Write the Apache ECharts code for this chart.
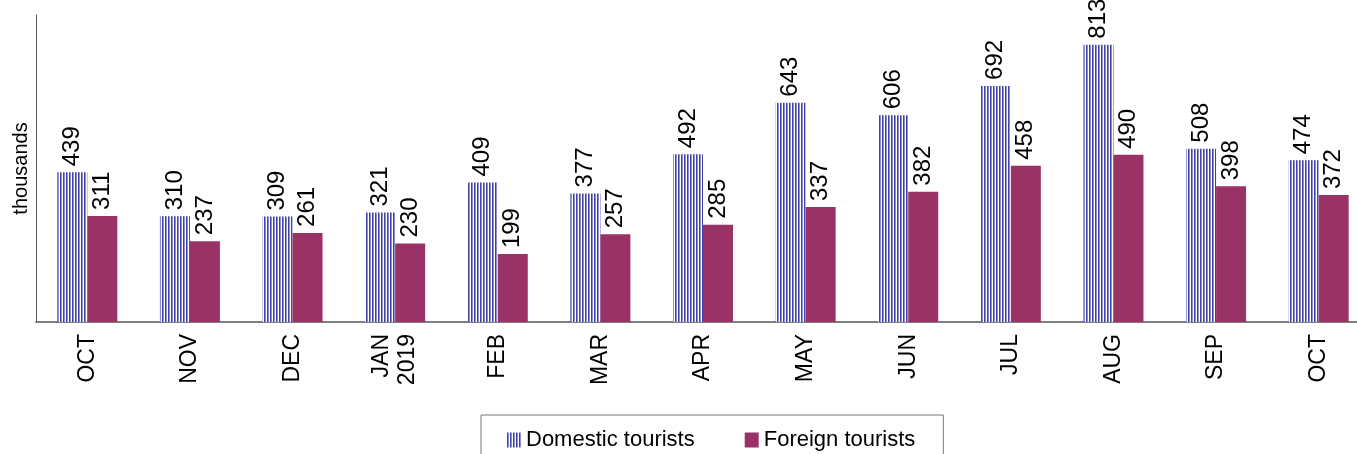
<!DOCTYPE html>
<html>
<head>
<meta charset="utf-8">
<script src="https://cdn.jsdelivr.net/npm/echarts@6/dist/echarts.min.js"></script>
<style>
  html, body { margin: 0; padding: 0; background: #fff; overflow: hidden; }
  #chart { width: 1370px; height: 454px; }
</style>
</head>
<body>
<div id="chart"></div>
<script>
const months = ['OCT', 'NOV', 'DEC', 'JAN\n2019', 'FEB', 'MAR', 'APR', 'MAY', 'JUN', 'JUL', 'AUG', 'SEP', 'OCT'];
const domestic = [439, 310, 309, 321, 409, 377, 492, 643, 606, 692, 813, 508, 474];
const foreign = [311, 237, 261, 230, 199, 257, 285, 337, 382, 458, 490, 398, 372];

// vertical stripe fill for the domestic bars
const stripe = document.createElement('canvas');
stripe.width = 3;
stripe.height = 4;
const ctx = stripe.getContext('2d');
ctx.fillStyle = '#ffffff'; ctx.fillRect(0, 0, 3, 4);
ctx.fillStyle = '#4242a4'; ctx.fillRect(0, 0, 1, 4);
ctx.fillStyle = '#8e8ed2'; ctx.fillRect(1, 0, 1, 4);

const font = 'Liberation Sans, Arial, sans-serif';
const barLabel = {
  show: true, position: 'top', rotate: 90, align: 'left', verticalAlign: 'middle',
  distance: 6, fontSize: 24, color: '#000', fontFamily: font
};

const chart = echarts.init(document.getElementById('chart'));
chart.setOption({
  animation: false,
  grid: { left: 36, right: 0, top: 15, bottom: 132 },
  legend: {
    left: 481, top: 415,
    padding: [14, 28, 30, 26],
    borderColor: '#777', borderWidth: 1,
    itemWidth: 14, itemHeight: 15, itemGap: 50,
    icon: 'rect',
    textStyle: { fontSize: 22, color: '#000', fontFamily: font },
    data: ['Domestic tourists', 'Foreign tourists']
  },
  xAxis: {
    type: 'category',
    data: months,
    axisLine: { lineStyle: { color: '#555', width: 1.5 } },
    axisTick: { show: false },
    axisLabel: { rotate: 90, fontSize: 23, color: '#000', fontFamily: font, margin: 12, lineHeight: 26 }
  },
  yAxis: {
    type: 'value',
    min: 0, max: 900,
    name: 'thousands', nameLocation: 'middle', nameGap: 5, nameRotate: 90,
    nameTextStyle: { fontSize: 20, color: '#000', fontFamily: font },
    axisLine: { show: true, lineStyle: { color: '#555' } },
    axisTick: { show: false },
    axisLabel: { show: false },
    splitLine: { show: false }
  },
  series: [
    {
      name: 'Domestic tourists', type: 'bar', data: domestic,
      barWidth: 30, barGap: '0%',
      itemStyle: { color: { image: stripe, repeat: 'repeat' } },
      label: barLabel
    },
    {
      name: 'Foreign tourists', type: 'bar', data: foreign,
      barWidth: 30,
      itemStyle: { color: '#993366' },
      label: barLabel
    }
  ]
});
</script>
</body>
</html>
